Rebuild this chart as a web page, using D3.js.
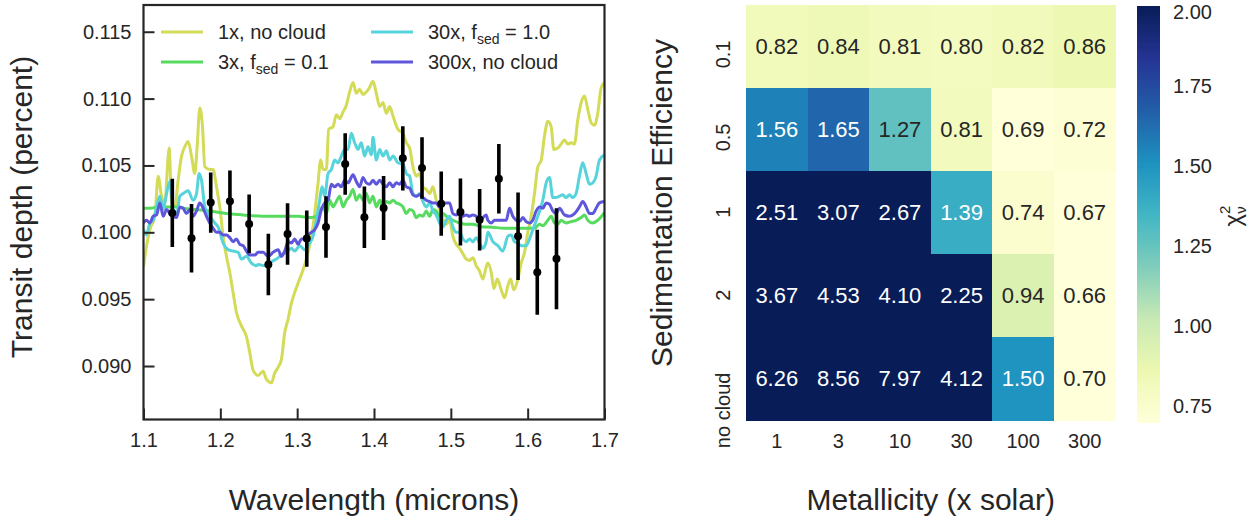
<!DOCTYPE html>
<html><head><meta charset="utf-8">
<script src="https://cdn.jsdelivr.net/npm/d3@7"></script>
<style>
body{margin:0;background:#fff}
svg text{font-family:"Liberation Sans",Arial,Helvetica,sans-serif;fill:#262626}
</style>
</head><body>
<svg id="c" width="1258" height="525"></svg>
<script>
// ---------- Left panel data ----------
const series1x = [[1.1000,0.09744],[1.1039,0.09895],[1.1083,0.1002],[1.1148,0.1012],[1.1191,0.1042],[1.1235,0.1027],[1.1278,0.1022],[1.1321,0.1057],[1.1334,0.1063],[1.1364,0.1024],[1.1408,0.1019],[1.1451,0.1039],[1.1495,0.1057],[1.1538,0.1064],[1.1581,0.1068],[1.1625,0.1057],[1.1668,0.1044],[1.1698,0.1064],[1.1733,0.1093],[1.1768,0.1079],[1.1798,0.1049],[1.1863,0.1047],[1.1906,0.1047],[1.1950,0.1034],[1.1993,0.1019],[1.2036,0.0997],[1.2080,0.0982],[1.2123,0.0970],[1.2166,0.0955],[1.2210,0.0940],[1.2275,0.0930],[1.2340,0.0922],[1.2383,0.0910],[1.2426,0.0897],[1.2491,0.0893],[1.2557,0.0896],[1.2600,0.0890],[1.2665,0.08875],[1.2709,0.0895],[1.2752,0.0899],[1.2795,0.0905],[1.2838,0.0925],[1.2882,0.0935],[1.2925,0.0947],[1.2968,0.0955],[1.3012,0.0962],[1.3077,0.0972],[1.3120,0.0980],[1.3185,0.0997],[1.3228,0.1014],[1.3272,0.1037],[1.3306,0.1054],[1.3337,0.1047],[1.3380,0.1047],[1.3410,0.1077],[1.3467,0.1079],[1.3510,0.1088],[1.3553,0.1085],[1.3597,0.1090],[1.3640,0.1095],[1.3683,0.1105],[1.3727,0.1112],[1.3770,0.1104],[1.3813,0.1107],[1.3857,0.1103],[1.3900,0.1105],[1.3940,0.1108],[1.3987,0.1113],[1.4030,0.1104],[1.4074,0.1094],[1.4117,0.1097],[1.4160,0.1089],[1.4204,0.1094],[1.4247,0.1087],[1.4312,0.1077],[1.4377,0.1074],[1.4420,0.1067],[1.4464,0.1063],[1.4507,0.1049],[1.4550,0.1042],[1.4594,0.1044],[1.4637,0.1034],[1.4680,0.1032],[1.4724,0.1029],[1.4767,0.1034],[1.4810,0.1024],[1.4854,0.1017],[1.4897,0.1010],[1.4940,0.1006],[1.4984,0.1009],[1.5027,0.0997],[1.5070,0.0991],[1.5114,0.0988],[1.5157,0.0984],[1.5200,0.0980],[1.5244,0.0979],[1.5287,0.0981],[1.5330,0.0975],[1.5374,0.0971],[1.5417,0.0965],[1.5460,0.0974],[1.5482,0.0977],[1.5526,0.0970],[1.5560,0.0958],[1.5604,0.0965],[1.5656,0.0957],[1.5699,0.0951],[1.5742,0.0960],[1.5777,0.0965],[1.5820,0.0957],[1.5872,0.0965],[1.5916,0.0977],[1.5959,0.0985],[1.6002,0.1000],[1.6046,0.1012],[1.6089,0.1029],[1.6132,0.1049],[1.6176,0.1054],[1.6219,0.1072],[1.6262,0.1083],[1.6306,0.1079],[1.6340,0.1062],[1.6392,0.1063],[1.6435,0.1066],[1.6479,0.1069],[1.6522,0.1066],[1.6565,0.1067],[1.6609,0.1066],[1.6652,0.1084],[1.6696,0.1097],[1.6739,0.1102],[1.6782,0.1092],[1.6826,0.1082],[1.6869,0.1080],[1.6912,0.1089],[1.6956,0.1108],[1.6999,0.1112]];

const series3x = [[1.1000,0.1018],[1.1083,0.1018],[1.1170,0.1019],[1.1213,0.1024],[1.1256,0.1019],[1.1430,0.1019],[1.1516,0.1018],[1.1690,0.1017],[1.1863,0.1016],[1.2080,0.1014],[1.2296,0.1013],[1.2548,0.1012],[1.2752,0.1012],[1.3012,0.1012],[1.3185,0.1011],[1.3250,0.1012],[1.3293,0.1016],[1.3337,0.1019],[1.3380,0.1014],[1.3423,0.1024],[1.3467,0.1019],[1.3510,0.1023],[1.3553,0.1027],[1.3597,0.1019],[1.3640,0.1024],[1.3683,0.1027],[1.3727,0.1032],[1.3770,0.1024],[1.3813,0.1028],[1.3857,0.1024],[1.3900,0.1029],[1.3943,0.1022],[1.3987,0.1027],[1.4030,0.1019],[1.4074,0.1024],[1.4117,0.1019],[1.4160,0.1023],[1.4204,0.1022],[1.4247,0.1024],[1.4290,0.1022],[1.4334,0.1021],[1.4377,0.1019],[1.4420,0.1014],[1.4464,0.1017],[1.4507,0.1016],[1.4550,0.1011],[1.4594,0.1013],[1.4637,0.1012],[1.4680,0.1016],[1.4724,0.1012],[1.4767,0.1017],[1.4810,0.1016],[1.4854,0.1012],[1.4897,0.1014],[1.4940,0.1012],[1.5027,0.1009],[1.5114,0.1007],[1.5200,0.1006],[1.5287,0.1006],[1.5417,0.1004],[1.5482,0.1004],[1.5699,0.1003],[1.5916,0.1003],[1.6089,0.1003],[1.6154,0.1006],[1.6197,0.1005],[1.6262,0.1009],[1.6306,0.1012],[1.6349,0.1007],[1.6392,0.1006],[1.6435,0.1009],[1.6500,0.1007],[1.6565,0.1008],[1.6630,0.1009],[1.6696,0.1011],[1.6739,0.1013],[1.6782,0.1009],[1.6847,0.1007],[1.6912,0.1009],[1.6977,0.1013],[1.7000,0.1015]];

const series30x = [[1.1000,0.1002],[1.1039,0.0998],[1.1083,0.1007],[1.1126,0.1009],[1.1170,0.1019],[1.1213,0.1027],[1.1256,0.1017],[1.1300,0.1029],[1.1343,0.1038],[1.1386,0.1017],[1.1430,0.1012],[1.1473,0.1027],[1.1516,0.1029],[1.1581,0.1031],[1.1646,0.1024],[1.1690,0.1029],[1.1724,0.1044],[1.1755,0.1039],[1.1798,0.1019],[1.1863,0.1012],[1.1928,0.1007],[1.1971,0.1004],[1.2036,0.0992],[1.2101,0.0987],[1.2166,0.0986],[1.2231,0.0985],[1.2275,0.0980],[1.2340,0.0982],[1.2405,0.0977],[1.2470,0.0975],[1.2492,0.0976],[1.2579,0.0975],[1.2665,0.0978],[1.2730,0.0980],[1.2795,0.0983],[1.2860,0.0985],[1.2925,0.0988],[1.2968,0.0986],[1.3033,0.0990],[1.3098,0.0987],[1.3163,0.0992],[1.3207,0.0997],[1.3250,0.1009],[1.3293,0.1024],[1.3324,0.1034],[1.3358,0.1027],[1.3402,0.1044],[1.3445,0.1047],[1.3488,0.1054],[1.3532,0.1052],[1.3575,0.1057],[1.3618,0.1062],[1.3662,0.1062],[1.3705,0.1074],[1.3748,0.1067],[1.3792,0.1062],[1.3835,0.1067],[1.3878,0.1057],[1.3922,0.1064],[1.3965,0.1058],[1.3987,0.1071],[1.4030,0.1054],[1.4074,0.1062],[1.4117,0.1057],[1.4160,0.1061],[1.4204,0.1054],[1.4247,0.1057],[1.4312,0.1052],[1.4377,0.1051],[1.4420,0.1044],[1.4464,0.1042],[1.4507,0.1029],[1.4550,0.1027],[1.4594,0.1029],[1.4637,0.1023],[1.4680,0.1019],[1.4724,0.1022],[1.4767,0.1016],[1.4810,0.1013],[1.4854,0.1007],[1.4897,0.1004],[1.4940,0.1009],[1.4984,0.1012],[1.5027,0.1004],[1.5070,0.1000],[1.5114,0.1000],[1.5157,0.0995],[1.5200,0.0993],[1.5244,0.0995],[1.5287,0.0993],[1.5330,0.0996],[1.5374,0.0992],[1.5417,0.0988],[1.5460,0.0993],[1.5482,0.1000],[1.5547,0.0993],[1.5612,0.0990],[1.5677,0.0986],[1.5742,0.0997],[1.5786,0.0998],[1.5829,0.0993],[1.5872,0.0992],[1.5916,0.0990],[1.5981,0.0990],[1.6024,0.0995],[1.6067,0.1002],[1.6132,0.1012],[1.6197,0.1024],[1.6241,0.1037],[1.6284,0.1041],[1.6327,0.1026],[1.6371,0.1026],[1.6414,0.1027],[1.6457,0.1028],[1.6500,0.1026],[1.6544,0.1028],[1.6587,0.1026],[1.6630,0.1029],[1.6674,0.1042],[1.6717,0.1052],[1.6761,0.1044],[1.6804,0.1036],[1.6847,0.1037],[1.6891,0.1042],[1.6934,0.1054],[1.6999,0.1058]];

const series300x = [[1.1000,0.1007],[1.1039,0.1009],[1.1083,0.1007],[1.1126,0.1012],[1.1170,0.1013],[1.1213,0.1022],[1.1256,0.1012],[1.1300,0.1017],[1.1343,0.1014],[1.1386,0.1012],[1.1430,0.1011],[1.1473,0.1019],[1.1516,0.1018],[1.1560,0.1014],[1.1603,0.1017],[1.1646,0.1012],[1.1690,0.1016],[1.1733,0.1022],[1.1776,0.1018],[1.1820,0.1012],[1.1863,0.1007],[1.1906,0.1003],[1.1950,0.1000],[1.1993,0.1000],[1.2036,0.0998],[1.2080,0.0998],[1.2123,0.0996],[1.2166,0.0993],[1.2210,0.0995],[1.2253,0.0991],[1.2296,0.0990],[1.2340,0.0986],[1.2383,0.0983],[1.2448,0.0983],[1.2491,0.0985],[1.2557,0.0985],[1.2622,0.0982],[1.2687,0.0985],[1.2752,0.0987],[1.2795,0.0982],[1.2838,0.0986],[1.2882,0.0993],[1.2925,0.0992],[1.2968,0.0995],[1.3012,0.0991],[1.3055,0.0995],[1.3098,0.0995],[1.3142,0.0998],[1.3185,0.1000],[1.3228,0.1002],[1.3272,0.1007],[1.3315,0.1017],[1.3358,0.1022],[1.3402,0.1024],[1.3445,0.1036],[1.3488,0.1034],[1.3532,0.1036],[1.3575,0.1034],[1.3618,0.1039],[1.3662,0.1037],[1.3727,0.1043],[1.3770,0.1038],[1.3813,0.1034],[1.3857,0.1041],[1.3900,0.1037],[1.3943,0.1036],[1.3987,0.1039],[1.4030,0.1036],[1.4074,0.1039],[1.4117,0.1036],[1.4160,0.1034],[1.4204,0.1037],[1.4247,0.1034],[1.4290,0.1037],[1.4334,0.1036],[1.4377,0.1039],[1.4420,0.1034],[1.4464,0.1033],[1.4507,0.1028],[1.4550,0.1027],[1.4594,0.1028],[1.4637,0.1026],[1.4680,0.1024],[1.4724,0.1023],[1.4767,0.1022],[1.4810,0.1022],[1.4854,0.1019],[1.4897,0.1021],[1.4940,0.1022],[1.4984,0.1022],[1.5027,0.1014],[1.5070,0.1013],[1.5114,0.1014],[1.5157,0.1012],[1.5200,0.1013],[1.5244,0.1012],[1.5287,0.1013],[1.5330,0.1012],[1.5374,0.1009],[1.5417,0.1011],[1.5460,0.1013],[1.5482,0.1009],[1.5526,0.1007],[1.5569,0.1009],[1.5612,0.1009],[1.5656,0.1009],[1.5721,0.1009],[1.5764,0.1018],[1.5807,0.1012],[1.5851,0.1009],[1.5894,0.1008],[1.5937,0.1011],[1.5981,0.1008],[1.6024,0.1007],[1.6067,0.1009],[1.6111,0.1016],[1.6154,0.1019],[1.6197,0.1018],[1.6241,0.1022],[1.6284,0.1021],[1.6327,0.1016],[1.6371,0.1014],[1.6414,0.1018],[1.6479,0.1013],[1.6544,0.1012],[1.6609,0.1014],[1.6674,0.1019],[1.6717,0.1023],[1.6761,0.1019],[1.6804,0.1014],[1.6847,0.1014],[1.6891,0.1018],[1.6934,0.1022],[1.6999,0.1023]];

const obsWave  = [1.1375,1.1625,1.1875,1.2125,1.2375,1.2625,1.2875,1.3125,1.3375,1.3625,1.3875,1.4125,1.4375,1.4625,1.4875,1.5125,1.5375,1.5625,1.5875,1.6125,1.6375];
const obsDepth = [0.10145,0.09955,0.10222,0.10232,0.10063,0.09759,0.09988,0.09953,0.10040,0.10511,0.10112,0.10182,0.10553,0.10481,0.10214,0.10152,0.10093,0.10401,0.09970,0.09702,0.09802];
const obsErr   = [0.00255,0.00256,0.00225,0.00230,0.00220,0.00230,0.00230,0.00210,0.00230,0.00230,0.00230,0.00240,0.00240,0.00230,0.00240,0.00250,0.00230,0.00260,0.00327,0.00318,0.00377];

const xTicks = [1.1,1.2,1.3,1.4,1.5,1.6,1.7];
const yTicks = [0.090,0.095,0.100,0.105,0.110,0.115];

// ---------- Right panel data ----------
const metallicity = ["1","3","10","30","100","300"];
const fsedLabels  = ["0.1","0.5","1","2","no cloud"];
const chiRow01  = [0.82,0.84,0.81,0.80,0.82,0.86];
const chiRow05  = [1.56,1.65,1.27,0.81,0.69,0.72];
const chiRow1   = [2.51,3.07,2.67,1.39,0.74,0.67];
const chiRow2   = [3.67,4.53,4.10,2.25,0.94,0.66];
const chiRowNo  = [6.26,8.56,7.97,4.12,1.50,0.70];
const cbarTicks = [0.75,1.00,1.25,1.50,1.75,2.00];

// ---------- drawing ----------
const svg = d3.select("#c");
const ink = "#262626";
const P = {l:143.5, r:604.5, t:5, b:419.5};
const x = d3.scaleLinear().domain([1.1,1.7]).range([P.l,P.r]);
const y = d3.scaleLinear().domain([0.086,0.117]).range([P.b,P.t]);

svg.append("defs").append("clipPath").attr("id","pc")
  .append("rect").attr("x",P.l).attr("y",P.t).attr("width",P.r-P.l).attr("height",P.b-P.t);

const models = [
  {data:series1x,   color:"#d3db57", label:["1x, no cloud"]},
  {data:series3x,   color:"#57db5f", label:["3x, f","sed"," = 0.1"]},
  {data:series30x,  color:"#57d3db", label:["30x, f","sed"," = 1.0"]},
  {data:series300x, color:"#5f57db", label:["300x, no cloud"]}
];
const line = d3.line().x(d=>x(d[0])).y(d=>y(d[1])).curve(d3.curveMonotoneX);
const gl = svg.append("g").attr("clip-path","url(#pc)");
models.forEach(m=>{
  gl.append("path").attr("d",line(m.data)).attr("fill","none")
    .attr("stroke",m.color).attr("stroke-width",3).attr("stroke-linejoin","round");
});
// error bars
const obs = obsWave.map((w,i)=>({w, v:obsDepth[i], e:obsErr[i]}));
gl.selectAll("line.eb").data(obs).enter().append("line")
  .attr("x1",d=>x(d.w)).attr("x2",d=>x(d.w))
  .attr("y1",d=>y(d.v-d.e)).attr("y2",d=>y(d.v+d.e))
  .attr("stroke","#000").attr("stroke-width",3.6);
gl.selectAll("circle.pt").data(obs).enter().append("circle")
  .attr("cx",d=>x(d.w)).attr("cy",d=>y(d.v)).attr("r",4).attr("fill","#000");

// axes (inward ticks)
const xa = svg.append("g").attr("transform",`translate(0,${P.b})`)
  .call(d3.axisBottom(x).tickValues(xTicks).tickFormat(d3.format(".1f")).tickSizeInner(-11).tickSizeOuter(0).tickPadding(13));
const ya = svg.append("g").attr("transform",`translate(${P.l},0)`)
  .call(d3.axisLeft(y).tickValues(yTicks).tickFormat(d3.format(".3f")).tickSizeInner(-11).tickSizeOuter(0).tickPadding(12));
[xa,ya].forEach(g=>{
  g.select(".domain").remove();
  g.selectAll(".tick line").attr("stroke",ink).attr("stroke-width",2);
  g.selectAll(".tick text").attr("font-size",20).attr("fill",ink)
    .style("font-family","'Liberation Sans',Arial,sans-serif");
});
svg.append("rect").attr("x",P.l).attr("y",P.t).attr("width",P.r-P.l).attr("height",P.b-P.t)
  .attr("fill","none").attr("stroke",ink).attr("stroke-width",2.2);

svg.append("text").attr("x",(P.l+P.r)/2).attr("y",510).attr("text-anchor","middle")
  .attr("font-size",30).text("Wavelength (microns)");
svg.append("text").attr("transform","translate(32,207) rotate(-90)").attr("text-anchor","middle")
  .attr("font-size",30).text("Transit depth (percent)");

// legend
const legPos = [[161,32],[161,62],[371,32],[371,62]];
models.forEach((m,i)=>{
  const [lx,ly] = legPos[i];
  svg.append("line").attr("x1",lx).attr("x2",lx+42).attr("y1",ly).attr("y2",ly)
    .attr("stroke",m.color).attr("stroke-width",3);
  const t = svg.append("text").attr("x",lx+57).attr("y",ly+7).attr("font-size",20);
  t.append("tspan").text(m.label[0]);
  if(m.label.length>1){
    t.append("tspan").attr("font-size",14).attr("dy",5).text(m.label[1]);
    t.append("tspan").attr("dy",-5).text(m.label[2]);
  }
});

// ---------- heatmap ----------
const chi = [chiRow01,chiRow05,chiRow1,chiRow2,chiRowNo];
const H = {l:746, r:1115.5, t:5, b:420};
const hx = d3.scaleBand().domain(metallicity).range([H.l,H.r]);
const hy = d3.scaleBand().domain(fsedLabels).range([H.t,H.b]);
const vmin=0.7, vmax=2.0;
const stops = d3.schemeYlGnBu[9];
const cmap = d3.scaleLinear().domain(stops.map((c,i)=>vmin+(vmax-vmin)*i/8)).range(stops).clamp(true);
function lum(c){
  const r=d3.rgb(c);
  const f=v=>{v/=255;return v<=0.03928?v/12.92:Math.pow((v+0.055)/1.055,2.4);};
  return 0.2126*f(r.r)+0.7152*f(r.g)+0.0722*f(r.b);
}
const cells=[];
chi.forEach((row,ri)=>row.forEach((v,ci)=>cells.push({r:fsedLabels[ri],c:metallicity[ci],v})));
const gh = svg.append("g");
gh.selectAll("rect").data(cells).enter().append("rect")
  .attr("x",d=>hx(d.c)).attr("y",d=>hy(d.r)).attr("width",hx.bandwidth()+0.5).attr("height",hy.bandwidth()+0.5)
  .attr("fill",d=>cmap(d.v)).attr("shape-rendering","crispEdges");
gh.selectAll("text").data(cells).enter().append("text")
  .attr("x",d=>hx(d.c)+hx.bandwidth()/2).attr("y",d=>hy(d.r)+hy.bandwidth()/2).attr("dy","0.36em")
  .attr("text-anchor","middle").attr("font-size",22)
  .style("fill",d=>lum(cmap(d.v))<0.408?"#ffffff":ink)
  .text(d=>d.v.toFixed(2));
// tick labels
svg.append("g").selectAll("text").data(metallicity).enter().append("text")
  .attr("x",d=>hx(d)+hx.bandwidth()/2).attr("y",448).attr("text-anchor","middle").attr("font-size",20).text(d=>d);
svg.append("g").selectAll("text").data(fsedLabels).enter().append("text")
  .attr("transform",d=>`translate(730,${hy(d)+hy.bandwidth()/2-6}) rotate(-90)`)
  .attr("text-anchor","end").attr("font-size",20).text(d=>d);
svg.append("text").attr("x",(H.l+H.r)/2).attr("y",510).attr("text-anchor","middle")
  .attr("font-size",30).text("Metallicity (x solar)");
svg.append("text").attr("transform","translate(672,203) rotate(-90)").attr("text-anchor","middle")
  .attr("font-size",30).text("Sedimentation Efficiency");

// colorbar
const cb = d3.scaleLinear().domain([vmin,vmax]).range([422,6]);
const strips = d3.range(0,260).map(i=>vmin+(vmax-vmin)*i/260);
svg.append("g").selectAll("rect").data(strips).enter().append("rect")
  .attr("x",1137).attr("width",23)
  .attr("y",d=>cb(d+(vmax-vmin)/260)).attr("height",416/260+0.6)
  .attr("fill",d=>cmap(d+(vmax-vmin)/520)).attr("shape-rendering","crispEdges");
svg.append("g").selectAll("text").data(cbarTicks).enter().append("text")
  .attr("x",1173).attr("y",d=>Math.max(cb(d),11.5)).attr("dy","0.36em").attr("font-size",20).text(d=>d.toFixed(2));
const cl = svg.append("text").attr("transform","translate(1241,216) rotate(-90)").attr("text-anchor","middle").attr("font-size",24);
cl.append("tspan").text("χ");
cl.append("tspan").attr("font-size",15).attr("dy",-11).text("2");
cl.append("tspan").attr("font-size",15).attr("dx",-8.3).attr("dy",16).text("ν");
</script>
</body></html>
